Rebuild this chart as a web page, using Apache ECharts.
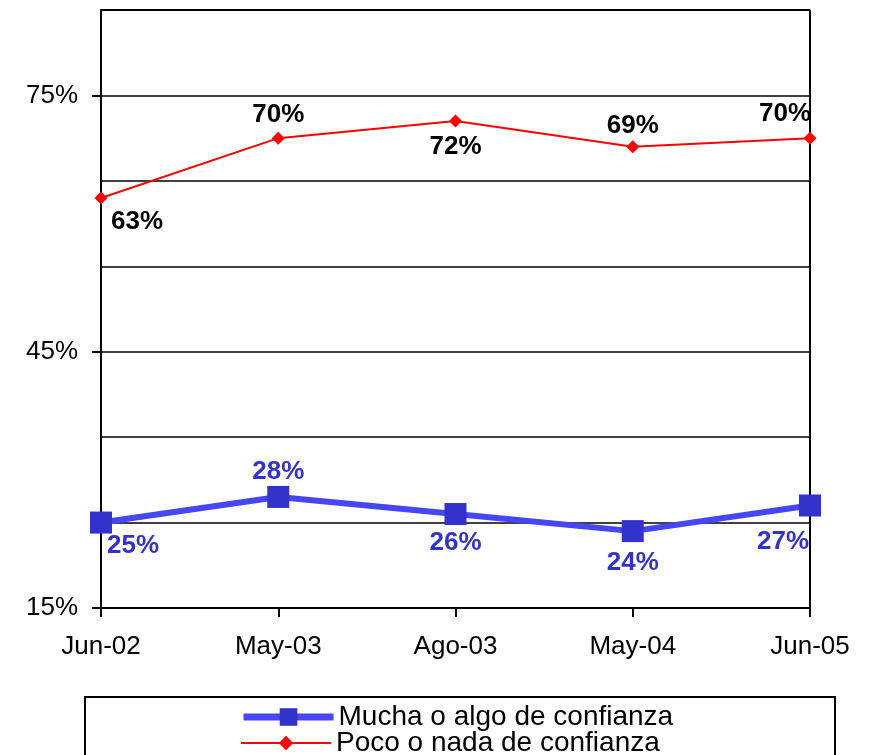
<!DOCTYPE html>
<html>
<head>
<meta charset="utf-8">
<script src="https://cdn.jsdelivr.net/npm/echarts@6/dist/echarts.min.js"></script>
<style>
  html, body { margin: 0; padding: 0; background: #fff; }
  #chart { width: 872px; height: 755px; }
</style>
</head>
<body>
<div id="chart"></div>
<script>
// datos
var categorias = ['Jun-02', 'May-03', 'Ago-03', 'May-04', 'Jun-05'];
var mucha = [25, 28, 26, 24, 27];
var poco = [63, 70, 72, 69, 70];
var marcasY = [15, 45, 75];
var nombres = ['Mucha o algo de confianza', 'Poco o nada de confianza'];

// desplazamiento de las etiquetas respecto al punto
var despMucha = [[32, 23], [0, -25], [0, 29], [0, 32], [-27, 36]];
var despPoco = [[36, 24], [0, -23], [0, 26], [0, -21], [-25, -24]];

var chart = echarts.init(document.getElementById('chart'));

function conEtiquetas(vals, desp) {
  return vals.map(function (v, i) {
    return { value: v, label: { offset: desp[i] } };
  });
}

var fuente = 'Liberation Sans';

var option = {
  animation: false,
  grid: { left: 101, right: 62, top: 10, bottom: 147, show: false },
  xAxis: {
    type: 'category',
    data: categorias,
    boundaryGap: false,
    axisLine: { lineStyle: { color: '#000', width: 2 } },
    axisTick: { show: true, length: 9, alignWithLabel: true, lineStyle: { color: '#000', width: 2 } },
    axisLabel: { color: '#000', fontSize: 26, fontFamily: fuente, margin: 26 },
    splitLine: { show: false }
  },
  yAxis: [
    {
      type: 'value',
      min: 15,
      max: 85,
      interval: 10,
      axisLine: { show: true, lineStyle: { color: '#000', width: 2 } },
      axisTick: {
        show: true, length: 9, customValues: marcasY,
        lineStyle: { color: '#000', width: 2 }
      },
      axisLabel: {
        color: '#000', fontSize: 26, fontFamily: fuente, margin: 23,
        customValues: marcasY,
        formatter: '{value}%'
      },
      splitLine: { show: false },
      z: 3
    },
    {
      // solo para las lineas de division cada 10%
      type: 'value',
      position: 'left',
      min: 15,
      max: 85,
      interval: 10,
      axisLine: { show: false },
      axisTick: { show: false },
      axisLabel: { show: false },
      splitLine: { lineStyle: { color: '#000', width: 1.5 } }
    }
  ],
  legend: [
    {
      data: [nombres[0]],
      left: 235,
      top: 698,
      itemWidth: 90,
      itemHeight: 22,
      lineStyle: { width: 7 },
      textStyle: { color: '#000', fontSize: 28, fontFamily: fuente }
    },
    {
      data: [nombres[1]],
      left: 235,
      top: 724,
      itemWidth: 90,
      itemHeight: 18,
      lineStyle: { width: 2 },
      textStyle: { color: '#000', fontSize: 28, fontFamily: fuente }
    }
  ],
  graphic: [
    {
      type: 'rect',
      shape: { x: 85, y: 697, width: 750, height: 70 },
      style: { fill: 'none', stroke: '#000', lineWidth: 2 },
      z: -1
    },
    {
      type: 'line',
      shape: { x1: 101, y1: 10, x2: 810, y2: 10 },
      style: { stroke: '#000', lineWidth: 2 }
    },
    {
      type: 'line',
      shape: { x1: 810, y1: 10, x2: 810, y2: 608 },
      style: { stroke: '#000', lineWidth: 2 }
    }
  ],
  series: [
    {
      name: nombres[0],
      type: 'line',
      data: conEtiquetas(mucha, despMucha),
      symbol: 'rect',
      symbolSize: 22,
      lineStyle: { color: '#4646F5', width: 6 },
      itemStyle: { color: '#3333CC' },
      label: {
        show: true, position: 'inside', color: '#3333CC', fontSize: 26, fontWeight: 'bold',
        fontFamily: fuente, formatter: '{c}%'
      },
      z: 3
    },
    {
      name: nombres[1],
      type: 'line',
      data: conEtiquetas(poco, despPoco),
      symbol: 'diamond',
      symbolSize: 13,
      lineStyle: { color: '#FF0000', width: 2 },
      itemStyle: { color: '#FF0000' },
      label: {
        show: true, position: 'inside', color: '#000', fontSize: 26, fontWeight: 'bold',
        fontFamily: fuente, formatter: '{c}%'
      },
      z: 3
    }
  ]
};

chart.setOption(option);
</script>
</body>
</html>
